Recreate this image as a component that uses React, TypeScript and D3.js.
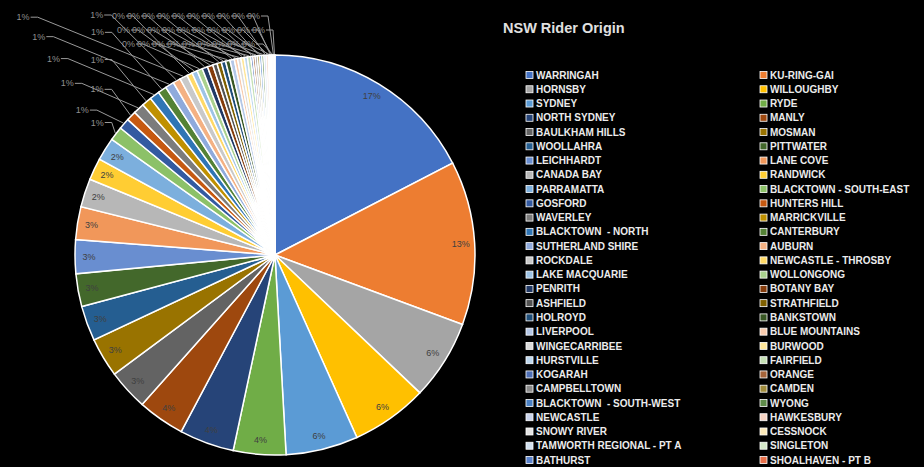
import React from "react";
import * as d3 from "d3";

// slices in legend order (row by row, two columns)
const categories = [
  "WARRINGAH", "KU-RING-GAI", "HORNSBY", "WILLOUGHBY", "SYDNEY", "RYDE",
  "NORTH SYDNEY", "MANLY", "BAULKHAM HILLS", "MOSMAN", "WOOLLAHRA", "PITTWATER",
  "LEICHHARDT", "LANE COVE", "CANADA BAY", "RANDWICK", "PARRAMATTA", "BLACKTOWN - SOUTH-EAST",
  "GOSFORD", "HUNTERS HILL", "WAVERLEY", "MARRICKVILLE", "BLACKTOWN  - NORTH", "CANTERBURY",
  "SUTHERLAND SHIRE", "AUBURN", "ROCKDALE", "NEWCASTLE - THROSBY", "LAKE MACQUARIE", "WOLLONGONG",
  "PENRITH", "BOTANY BAY", "ASHFIELD", "STRATHFIELD", "HOLROYD", "BANKSTOWN",
  "LIVERPOOL", "BLUE MOUNTAINS", "WINGECARRIBEE", "BURWOOD", "HURSTVILLE", "FAIRFIELD",
  "KOGARAH", "ORANGE", "CAMPBELLTOWN", "CAMDEN", "BLACKTOWN  - SOUTH-WEST", "WYONG",
  "NEWCASTLE", "HAWKESBURY", "SNOWY RIVER", "CESSNOCK", "TAMWORTH REGIONAL - PT A", "SINGLETON",
  "BATHURST", "SHOALHAVEN - PT B",
];

const riders = [
  197, 150, 73, 70, 66, 48,
  50, 43, 37, 36, 32, 30,
  31, 30, 26, 20, 21, 13,
  10, 9, 10, 9, 9, 8,
  8, 7, 7, 5, 5, 5,
  5, 5, 4, 4, 4, 4,
  4, 3, 3, 3, 3, 3,
  2, 2, 2, 2, 2, 2,
  2, 2, 1, 1, 1, 1,
  1, 1,
];

const sliceColors = [
  "#4472C4", "#ED7D31", "#A5A5A5", "#FFC000", "#5B9BD5", "#70AD47",
  "#264478", "#9E480E", "#636363", "#997300", "#255E91", "#43682B",
  "#698ED0", "#F1975A", "#B7B7B7", "#FFCD33", "#7CAFDD", "#8CC168",
  "#335AA1", "#C65911", "#7C7C7C", "#BF9000", "#2F75B5", "#548235",
  "#8FAADC", "#F4B183", "#C9C9C9", "#FFD966", "#9DC3E6", "#A9D18E",
  "#203864", "#843C0C", "#525252", "#7F6000", "#1F4E79", "#385723",
  "#B4C7E7", "#F8CBAD", "#DBDBDB", "#FFE699", "#BDD7EE", "#C5E0B4",
  "#4E6FB5", "#A5643A", "#8A8A8A", "#A08C3C", "#4A80C4", "#5F8C4A",
  "#C9D3EC", "#F6D3C2", "#E3E3E3", "#FCE9B8", "#D2E1F0", "#D6E9C9",
  "#5A82CC", "#E8704A",
];

const title = "NSW Rider Origin";

const W = 924;
const H = 467;
const cx = 275;
const cy = 255;
const R = 200;

const font = "'Liberation Sans', Arial, sans-serif";

export default function App() {
  const total = d3.sum(riders);
  const pct = d3.format(".0%");
  const slices = d3.pie<number>().sort(null).value((d) => d)(riders);
  const arc = d3.arc<d3.PieArcDatum<number>>().innerRadius(0).outerRadius(R);

  const edge = (a: number, r: number) => [Math.sin(a) * r, -Math.cos(a) * r];

  // outside labels: 1% ones fan out to the upper left (short / long alternating),
  // 0% ones sit in rows above the pie
  const small = slices.filter((s) => s.value / total < 0.015);
  const ones = small.filter((s) => Math.round((s.value / total) * 100) >= 1);
  const zeros = small.filter((s) => Math.round((s.value / total) * 100) < 1);
  const zx = d3.scaleLinear().domain([0, zeros.length - 1]).range([126, 266]);
  const zRows = [16, 30, 44];

  const outside = [
    ...ones.map((s, k) => {
      const a = (s.startAngle + s.endAngle) / 2;
      const [px, py] = edge(a, R + 1);
      const odd = k % 2 === 1;
      const len = odd ? 20 + k * 16 : 15 + k * 11;
      const dx = odd ? -0.93 : -0.7;
      const dy = odd ? -0.36 : -0.7;
      let lx = cx + px + dx * len;
      let ly = cy + py + dy * len;
      if (ly < 15) ly = 15;
      return { s, p: [cx + px, cy + py], l: [lx, ly] };
    }),
    ...zeros.map((s, k) => {
      const a = (s.startAngle + s.endAngle) / 2;
      const [px, py] = edge(a, R + 1);
      return { s, p: [cx + px, cy + py], l: [zx(k), zRows[k % 3]] };
    }),
  ];

  const rowY = d3.scaleLinear().domain([0, 27]).range([75, 460]);
  const colX = [526, 760];

  return (
    <div style={{ background: "#000", width: W, height: H }}>
      <style>{`body{margin:0;background:#000}`}</style>
      <svg width={W} height={H} style={{ display: "block", fontFamily: font }}>
        <rect width={W} height={H} fill="#000" />

        <g transform={`translate(${cx},${cy})`}>
          {slices.map((s, i) => (
            <path key={i} d={arc(s) || ""} fill={sliceColors[i]} stroke="#fff" strokeWidth={1.5} />
          ))}
          {slices
            .filter((s) => s.value / total >= 0.015)
            .map((s, i) => {
              const a = (s.startAngle + s.endAngle) / 2;
              const [x, y] = edge(a, R * 0.93);
              return (
                <text key={i} x={x} y={y + 3} textAnchor="middle" fontSize={9} fill="#404040">
                  {pct(s.value / total)}
                </text>
              );
            })}
        </g>

        {outside.map((o, i) => (
          <g key={i}>
            <polyline
              points={`${o.l[0]},${o.l[1]} ${o.l[0] + 7},${o.l[1]} ${o.p[0]},${o.p[1]}`}
              fill="none"
              stroke="#9a9a9a"
              strokeWidth={1}
            />
            <text x={o.l[0] - 1} y={o.l[1] + 3} textAnchor="end" fontSize={9} fill="#8f8f8f">
              {pct(o.s.value / total)}
            </text>
          </g>
        ))}

        <text x={503} y={33} fontSize={14.5} fontWeight="bold" fill="#e0e0e0">
          {title}
        </text>

        {categories.map((c, i) => {
          const x = colX[i % 2];
          const y = rowY(Math.floor(i / 2));
          return (
            <g key={c}>
              <rect x={x} y={y - 3.5} width={7} height={7} fill={sliceColors[i]} stroke="#fff" strokeWidth={0.8} />
              <text
                x={x + 10}
                y={y + 3.6}
                fontSize={10}
                fontWeight="bold"
                fill="#ececec"
                style={{ whiteSpace: "pre" }}
              >
                {c}
              </text>
            </g>
          );
        })}
      </svg>
    </div>
  );
}
